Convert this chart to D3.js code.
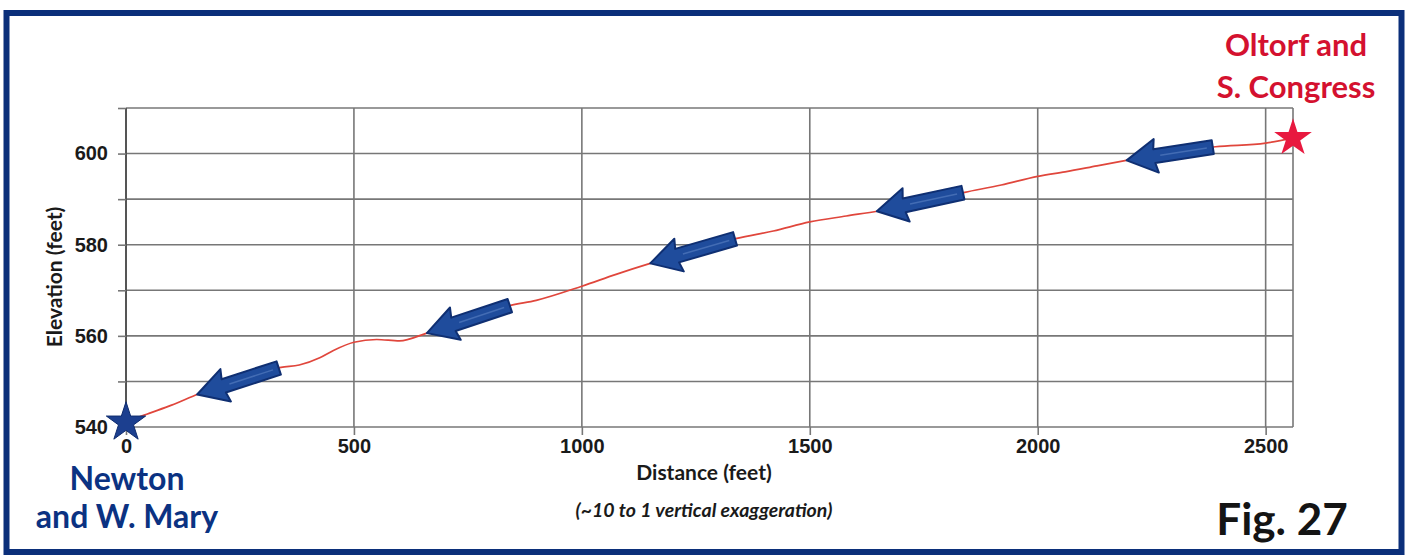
<!DOCTYPE html>
<html>
<head>
<meta charset="utf-8">
<script src="https://cdn.jsdelivr.net/npm/d3@7"></script>
<style>
  html, body { margin: 0; padding: 0; background: #fff; }
  svg { display: block; font-family: Lato, "Open Sans", sans-serif; }
</style>
</head>
<body>
<div id="chart"></div>
<script>
// Elevation profile, Newton & W. Mary -> Oltorf & S. Congress
const distance = [0, 40, 100, 160, 250, 340, 380, 425, 455, 500, 550, 600, 660, 750, 840, 900,
    1000, 1075, 1150, 1250, 1340, 1420, 1500, 1580, 1650, 1750, 1840, 1920, 2000, 2060, 2130,
    2200, 2300, 2390, 2500, 2560];
const elevation = [541, 542.6, 544.8, 547.3, 550.3, 553.1, 553.6, 555.2, 556.8, 558.6, 559.2, 558.9,
    560.6, 563.5, 566.6, 567.8, 570.9, 573.5, 575.9, 578.8, 581.4, 583, 585, 586.3, 587.4, 589.5,
    591.5, 593.1, 595, 596, 597.3, 598.6, 600.3, 601.5, 602.3, 603.4];

// direction arrows (distance of tip / tail along the profile)
const arrowTips = [156, 660, 1150, 1647, 2195];
const arrowTails = [335, 842, 1336, 1836, 2384];

const xTicks = [0, 500, 1000, 1500, 2000, 2500];
const yTicks = [540, 560, 580, 600];
const yGrid = [540, 550, 560, 570, 580, 590, 600, 610];

const W = 1410, H = 556;
const svg = d3.select('#chart').append('svg')
    .attr('width', W)
    .attr('height', H);

// outer frame
svg.append('rect')
    .attr('x', 6.5).attr('y', 13)
    .attr('width', 1395).attr('height', 539)
    .attr('fill', 'none')
    .attr('stroke', '#0b2f7a')
    .attr('stroke-width', 6);

const x = d3.scaleLinear().domain([0, 2560]).range([126, 1293]);
const y = d3.scaleLinear().domain([540, 610]).range([427, 108]);

const gridColor = '#777';

// horizontal grid
svg.append('g').selectAll('line')
    .data(yGrid)
    .enter()
    .append('line')
    .attr('x1', x(0)).attr('x2', x(2560))
    .attr('y1', d => y(d)).attr('y2', d => y(d))
    .attr('stroke', gridColor)
    .attr('stroke-width', 1.6);

// vertical grid + right border
svg.append('g').selectAll('line')
    .data(xTicks.concat([2560]))
    .enter()
    .append('line')
    .attr('x1', d => x(d)).attr('x2', d => x(d))
    .attr('y1', y(610)).attr('y2', y(540))
    .attr('stroke', d => d === 0 ? '#555' : gridColor)
    .attr('stroke-width', d => d === 0 ? 2 : 1.6);

// x axis
const xAxis = svg.append('g')
    .attr('transform', `translate(0,${y(540)})`)
    .call(d3.axisBottom(x).tickValues(xTicks).tickSize(8).tickPadding(4).tickFormat(d3.format('d')));
xAxis.select('.domain').remove();
xAxis.selectAll('line').attr('stroke', gridColor).attr('stroke-width', 1.6);
xAxis.selectAll('text')
    .style('font-size', '20px')
    .style('font-weight', 700)
    .attr('fill', '#1a1a1a');

// y axis (minor ticks every 10, labels every 20)
const yAxis = svg.append('g')
    .attr('transform', `translate(${x(0)},0)`)
    .call(d3.axisLeft(y).tickValues(yGrid).tickSize(8).tickPadding(10)
        .tickFormat(d => yTicks.includes(d) ? d : ''));
yAxis.select('.domain').remove();
yAxis.selectAll('line').attr('stroke', gridColor).attr('stroke-width', 1.6);
yAxis.selectAll('text')
    .style('font-size', '20px')
    .style('font-weight', 700)
    .attr('fill', '#1a1a1a');

// axis titles
svg.append('text')
    .attr('x', 704).attr('y', 480)
    .attr('text-anchor', 'middle')
    .style('font-size', '21px')
    .style('font-weight', 700)
    .attr('fill', '#1a1a1a')
    .text('Distance (feet)');

svg.append('text')
    .attr('transform', 'rotate(-90)')
    .attr('x', -277).attr('y', 62)
    .attr('text-anchor', 'middle')
    .style('font-size', '21px')
    .style('font-weight', 700)
    .attr('fill', '#1a1a1a')
    .text('Elevation (feet)');

svg.append('text')
    .attr('x', 704).attr('y', 517)
    .attr('text-anchor', 'middle')
    .style('font-size', '19.5px')
    .style('font-weight', 700)
    .style('font-style', 'italic')
    .attr('fill', '#1a1a1a')
    .text('(~10 to 1 vertical exaggeration)');

// profile line
const profile = distance.map((d, i) => ({ d: d, e: elevation[i] }));
const line = d3.line()
    .x(p => x(p.d))
    .y(p => y(p.e))
    .curve(d3.curveMonotoneX);

svg.append('path')
    .datum(profile)
    .attr('d', line)
    .attr('fill', 'none')
    .attr('stroke', '#e0463c')
    .attr('stroke-width', 1.7);

// arrows pointing back down the profile
const elevAt = d3.scaleLinear().domain(distance).range(elevation);
const headLen = 30, headHalf = 17, shaftHalf = 7;

arrowTips.forEach((tipD, i) => {
    const tx = x(tipD), ty = y(elevAt(tipD));
    const ex = x(arrowTails[i]), ey = y(elevAt(arrowTails[i]));
    const len = Math.hypot(ex - tx, ey - ty);
    const ang = Math.atan2(ey - ty, ex - tx) * 180 / Math.PI;
    const pts = [[0, 0], [headLen, -headHalf], [headLen - 2, -shaftHalf], [len, -shaftHalf],
        [len, shaftHalf], [headLen - 2, shaftHalf], [headLen, headHalf]];
    const g = svg.append('g')
        .attr('transform', `translate(${tx},${ty}) rotate(${ang})`);
    g.append('path')
        .attr('d', 'M' + pts.map(p => p.join(',')).join('L') + 'Z')
        .attr('fill', '#1f4c9c')
        .attr('stroke', '#0f2f72')
        .attr('stroke-width', 2)
        .attr('stroke-linejoin', 'round');
    g.append('line')
        .attr('x1', headLen + 4).attr('x2', len - 6)
        .attr('y1', 0).attr('y2', 0)
        .attr('stroke', '#5b82c4')
        .attr('stroke-width', 1.5)
        .attr('opacity', 0.6);
});

// end-point stars
const star = d3.symbol().type(d3.symbolStar);
svg.append('path')
    .attr('d', star.size(480)())
    .attr('transform', `translate(${x(0)},${y(541)})`)
    .attr('fill', '#1c3f8f')
    .attr('stroke', '#0f2c6e')
    .attr('stroke-width', 1);

svg.append('path')
    .attr('d', star.size(440)())
    .attr('transform', `translate(${x(2560)},${y(603.4)})`)
    .attr('fill', '#e8193f');

// place labels
const startLabel = ['Newton', 'and W. Mary'];
const endLabel = ['Oltorf and', 'S. Congress'];

startLabel.forEach((t, i) => {
    svg.append('text')
        .attr('x', 127).attr('y', 490 + i * 38)
        .attr('text-anchor', 'middle')
        .style('font-size', '32px')
        .style('font-weight', 700)
        .attr('fill', '#0b3282')
        .text(t);
});

endLabel.forEach((t, i) => {
    svg.append('text')
        .attr('x', 1296).attr('y', 56 + i * 42)
        .attr('text-anchor', 'middle')
        .style('font-size', '31px')
        .style('font-weight', 700)
        .attr('fill', '#d4112f')
        .text(t);
});

svg.append('text')
    .attr('x', 1282).attr('y', 535)
    .attr('text-anchor', 'middle')
    .style('font-size', '44px')
    .style('font-weight', 700)
    .attr('fill', '#141414')
    .text('Fig. 27');
</script>
</body>
</html>
